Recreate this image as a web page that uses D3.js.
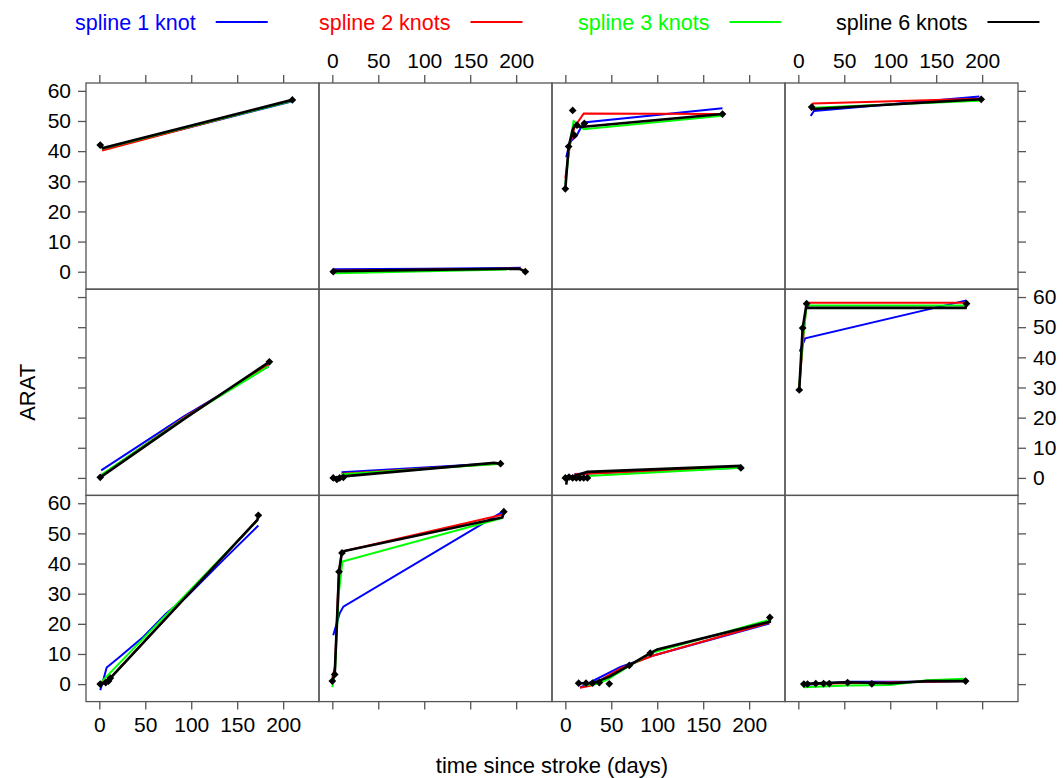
<!DOCTYPE html>
<html>
<head>
<meta charset="utf-8">
<script src="https://cdn.jsdelivr.net/npm/d3@7"></script>
<style>
  body { margin: 0; background: #fff; }
  text { font-family: "Liberation Sans", Arial, sans-serif; }
</style>
</head>
<body>
<svg id="chart" width="1063" height="778"></svg>
<script>
// panels listed row by row, top-left first; each entry is [day, ARAT]
const observed = [
  [[1, 42], [210, 57]],
  [[1, 0], [210, 0]],
  [[0, 27.5], [3.6, 41.5], [8, 53.5], [9.8, 45.3], [12.7, 48.6], [20.7, 49.2], [171, 52.3]],
  [[14.5, 54.6], [199, 57.2]],
  [[1, 0.2], [185, 38.5]],
  [[1, 0], [5, -0.5], [8, 0], [12, 0.2], [183, 4.7]],
  [[0, 0], [4, 0.3], [8, 0], [12, 0], [16, 0], [20, 0], [24, 0], [191, 3.3]],
  [[1, 29.2], [4.7, 49.7], [9, 57.8], [183, 57.8]],
  [[1, 0], [7, 0.5], [10, 1], [12, 2], [173, 56]],
  [[0, 1], [2.6, 3.2], [7.3, 37.3], [10.5, 43.5], [186.6, 57.2]],
  [[14.5, 0.3], [22.5, 0.3], [29.7, 0.3], [37, 0.5], [47.8, 0.1], [69.6, 6.2], [92.4, 10.3], [222.5, 22.1]],
  [[6, 0], [10, 0], [19, 0.2], [27.5, 0.2], [33.7, 0.2], [53.6, 0.5], [80, 0.1], [182, 1]]
];

const fit1Knot = [
  [[3, 40.5], [208, 56.4]],
  [[1, 0.8], [100, 1], [205, 1.3]],
  [[1, 38], [5, 43], [12, 45], [20, 49.5], [171, 54.2]],
  [[13.5, 51.7], [17, 53.3], [197, 58.1]],
  [[2, 2.5], [92, 20.4], [184, 37]],
  [[10, 1.9], [180, 4.9]],
  [[10, 1.3], [191, 3.4]],
  [[1.5, 41.9], [7.5, 46.3], [183, 58.9]],
  [[1, -2], [4, 1], [8, 5.5], [22, 9], [48, 15.7], [73, 23.5], [95, 29], [135, 41.2], [173, 52.6]],
  [[1, 16.2], [8, 23.5], [12, 25.7], [186, 57.3]],
  [[16, -1.2], [31, 1.2], [60, 5.7], [97, 9.6], [222, 20.1]],
  [[6, -0.3], [53, 0.8], [140, 0.8], [182, 1]]
];

const fit2Knots = [
  [[3, 40.2], [208, 56.8]],
  [[1, 0.3], [205, 1]],
  [[0, 31], [5, 42], [10, 48], [20, 52.5], [171, 52.3]],
  [[14, 53.5], [16, 55.8], [197, 57.4]],
  [[1, 0.5], [92, 20], [184, 37.5]],
  [[10, 1.4], [180, 4.7]],
  [[10, 1.2], [191, 3.5]],
  [[1, 30], [5, 45], [9, 58.1], [183, 58.1]],
  [[1, 0.5], [12, 2], [172, 54.5]],
  [[0, 2], [3, 6], [7, 37], [10.5, 44], [185, 56.2]],
  [[16, -1.2], [28, -0.5], [60, 5.2], [95, 9.4], [222, 20.4]],
  [[6, 0], [182, 1]]
];

const fit3Knots = [
  [[3, 40.8], [208, 56.5]],
  [[3, -0.5], [190, 0.7]],
  [[0, 29], [5, 43], [9, 50], [20, 47.3], [171, 51.7]],
  [[15, 54.4], [197, 56.7]],
  [[1, 0.8], [92, 19.8], [184, 37]],
  [[10, 1.2], [180, 4.6]],
  [[24, 0.6], [191, 3.4]],
  [[1, 30.5], [5, 46], [9, 57.2], [183, 57.2]],
  [[3, 1], [172, 54.3]],
  [[0, -1], [3, 5], [7, 30], [11, 40.7], [185, 55.1]],
  [[20, -0.3], [35, 0], [46, 1.6], [68, 5.7], [93, 10.3], [222, 21.3]],
  [[6, -1], [53, -0.5], [100, -0.3], [140, 1.3], [182, 1.8]]
];

const fit6Knots = [
  [[1, 42], [4, 41], [210, 57]],
  [[1, 0.2], [100, 0.6], [203, 1], [210, 0.2]],
  [[0, 27.5], [3.6, 41.5], [8, 47], [10, 48.5], [17, 48], [171, 52.3]],
  [[14.5, 54.6], [17, 54], [199, 57.2]],
  [[1, 0.2], [92, 19.5], [185, 38.5]],
  [[1, 0], [12, 0.5], [176, 5], [183, 4.7]],
  [[1, -2.2], [2, 0.3], [8, 0.5], [24, 2], [191, 4]],
  [[1, 29.2], [4.7, 49.7], [9, 57.8], [10, 56.4], [182, 56.4], [183, 57.8]],
  [[1, 0], [7, 0.5], [12, 2], [172, 54.5], [173, 56]],
  [[0, 1], [2.6, 3.2], [7.3, 37.3], [10.5, 44], [185, 55.3], [186.6, 57.2]],
  [[14.5, 0.3], [29.7, 0.3], [40, 1.5], [48, 2.5], [69.6, 6.2], [92.4, 10.3], [100, 11.5], [222.5, 20.7], [222.5, 22.1]],
  [[6, 0.1], [53, 0.6], [100, 0.3], [140, 1], [182, 1]]
];

const seriesNames = ["spline 1 knot", "spline 2 knots", "spline 3 knots", "spline 6 knots"];
const seriesColors = ["#0000ff", "#ff0000", "#00ff00", "#000000"];
const xTicks = [0, 50, 100, 150, 200];
const yTicks = [0, 10, 20, 30, 40, 50, 60];

const svg = d3.select("#chart");
const panelLeft = 86, panelTop = 83, pw = 233, ph = 206.2;
const nCols = 4, nRows = 3;

const x = d3.scaleLinear().domain([-14.5, 239]).range([0, pw]);
const y = d3.scaleLinear().domain([-5.8, 62.6]).range([ph, 0]);

const fits = [fit1Knot, fit2Knots, fit3Knots, fit6Knots];
const line = d3.line().x((d) => x(d[0])).y((d) => y(d[1]));
const axisColor = "#555";
const diamond = d3.symbol(d3.symbolSquare, 30);

for (let r = 0; r < nRows; r++) {
  for (let c = 0; c < nCols; c++) {
    const i = r * nCols + c;
    const g = svg.append("g").attr("transform", `translate(${panelLeft + c * pw},${panelTop + r * ph})`);

    // fitted lines, black last so it sits on top
    fits.forEach((fit, k) => {
      g.append("path")
        .datum(fit[i])
        .attr("d", line)
        .attr("fill", "none")
        .attr("stroke", seriesColors[k])
        .attr("stroke-width", k === 3 ? 2.6 : 2);
    });

    g.selectAll(".pt")
      .data(observed[i])
      .join("path")
      .attr("class", "pt")
      .attr("transform", (d) => `translate(${x(d[0])},${y(d[1])}) rotate(45)`)
      .attr("d", diamond)
      .attr("fill", "black");

    g.append("rect")
      .attr("width", pw)
      .attr("height", ph)
      .attr("fill", "none")
      .attr("stroke", axisColor)
      .attr("stroke-width", 1.3);

    // lattice style alternating axes
    const axes = [];
    if (c === 0) axes.push({ ax: d3.axisLeft(y), pos: [0, 0], lab: r !== 1, ticks: yTicks });
    if (c === nCols - 1) axes.push({ ax: d3.axisRight(y), pos: [pw, 0], lab: r === 1, ticks: yTicks });
    if (r === 0) axes.push({ ax: d3.axisTop(x), pos: [0, 0], lab: c % 2 === 1, ticks: xTicks });
    if (r === nRows - 1) axes.push({ ax: d3.axisBottom(x), pos: [0, ph], lab: c % 2 === 0, ticks: xTicks });

    axes.forEach((a) => {
      const ag = g.append("g").attr("transform", `translate(${a.pos[0]},${a.pos[1]})`);
      a.ax
        .tickValues(a.ticks)
        .tickSize(8)
        .tickPadding(7)
        .tickFormat(a.lab ? d3.format("d") : () => "");
      ag.call(a.ax);
      ag.select(".domain").remove();
      ag.selectAll(".tick line").attr("stroke", axisColor).attr("stroke-width", 1.3);
      ag.selectAll(".tick text")
        .attr("fill", "black")
        .style("font-size", "21px")
        .style("font-family", '"Liberation Sans", Arial, sans-serif');
    });
  }
}

// axis titles
svg.append("text")
  .attr("x", panelLeft + (nCols * pw) / 2)
  .attr("y", 773)
  .attr("text-anchor", "middle")
  .style("font-size", "22px")
  .text("time since stroke (days)");

svg.append("text")
  .attr("transform", `translate(35,${panelTop + (nRows * ph) / 2}) rotate(-90)`)
  .attr("text-anchor", "middle")
  .style("font-size", "22px")
  .text("ARAT");

// legend across the top
const legendX = [75, 319, 578, 836];
seriesNames.forEach((name, k) => {
  const t = svg.append("text")
    .attr("x", legendX[k])
    .attr("y", 30)
    .attr("fill", seriesColors[k])
    .style("font-size", "21.5px")
    .text(name);
  const w = t.node().getComputedTextLength();
  svg.append("line")
    .attr("x1", legendX[k] + w + 20)
    .attr("x2", legendX[k] + w + 72)
    .attr("y1", 22)
    .attr("y2", 22)
    .attr("stroke", seriesColors[k])
    .attr("stroke-width", 2);
});
</script>
</body>
</html>
